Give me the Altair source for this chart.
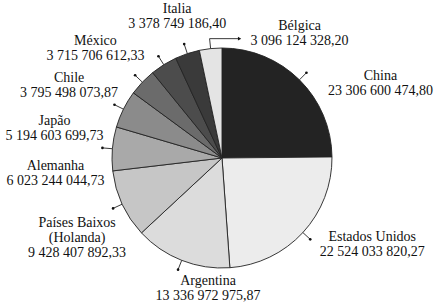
import altair as alt
import pandas as pd

# ---- data ----
countries = ["China", "Estados Unidos", "Argentina", "Países Baixos\n(Holanda)",
             "Alemanha", "Japão", "Chile", "México", "Italia", "Bélgica"]
values = [23306600474.80, 22524033820.27, 13336972975.87, 9428407892.33,
          6023244044.73, 5194603699.73, 3795498073.87, 3715706612.33,
          3378749186.40, 3096124328.20]

# ---- style / layout ----
colors = ["#232323", "#ececec", "#dcdcdc", "#c6c6c6", "#a9a9a9",
          "#8b8b8b", "#6b6b6b", "#4c4c4c", "#3a3a3a", "#e4e4e4"]
# label nudges relative to the end of each (data-derived) leader line
label_dx = [74, 62, 30, -36, -47, -60, -66, -63, -7, 90]
label_dy = [7, 2, 15, 19, 22, 20, 7, -11, -31, -9]
arrow = [0, 0, 0, 0, 0, 0, 0, 0, 0, 1]

CX, CY, R, LEAD = 222, 158, 110, 10
FONT = "Liberation Serif"


def fmt(v):
    return f"{v:,.2f}".replace(",", " ").replace(".", ",")


df = pd.DataFrame({
    "idx": list(range(len(countries))),
    "country": countries,
    "value": values,
    "label": [c + "\n" + fmt(v) for c, v in zip(countries, values)],
    "ldx": label_dx,
    "ldy": label_dy,
    "arrow": arrow,
})

base = alt.Chart(df).transform_joinaggregate(
    total="sum(value)"
).transform_window(
    cum="sum(value)", sort=[alt.SortField("idx", order="ascending")], frame=[None, 0]
).transform_calculate(
    mid="(datum.cum - datum.value / 2) / datum.total * 2 * PI",
).transform_calculate(
    x0=f"{CX} + {R} * sin(datum.mid)",
    y0=f"{CY} - {R} * cos(datum.mid)",
    x1=f"{CX} + {R + LEAD} * sin(datum.mid)",
    y1=f"{CY} - {R + LEAD} * cos(datum.mid)",
).transform_calculate(
    tx="datum.x1 + datum.ldx",
    ty="datum.y1 + datum.ldy",
    ax2="datum.x1 + 30",
)

def px(field):
    return alt.X(field, type="quantitative", scale=None, axis=None)

def py(field):
    return alt.Y(field, type="quantitative", scale=None, axis=None)

arcs = alt.Chart(df).mark_arc(outerRadius=R, stroke="#222222", strokeWidth=0.9).encode(
    theta=alt.Theta("value:Q", stack=True),
    order=alt.Order("idx:Q"),
    color=alt.Color("country:N", scale=alt.Scale(domain=countries, range=colors), legend=None),
    x=alt.value(CX),
    y=alt.value(CY),
)

leaders = base.mark_rule(color="#222222", strokeWidth=0.9).encode(
    x=px("x0"), y=py("y0"), x2="x1:Q", y2="y1:Q"
)

dots = base.transform_filter("datum.arrow == 0").mark_circle(size=7, color="#111111", opacity=1).encode(
    x=px("x1"), y=py("y1")
)

arrow_line = base.transform_filter("datum.arrow == 1").mark_rule(color="#222222", strokeWidth=0.9).encode(
    x=px("x1"), y=py("y1"), x2="ax2:Q"
)

arrow_head = base.transform_filter("datum.arrow == 1").mark_point(
    shape="triangle-right", size=14, filled=True, color="#111111", opacity=1
).encode(x=px("ax2"), y=py("y1"))

labels = base.mark_text(
    font=FONT, fontSize=14, lineHeight=15, lineBreak="\n",
    align="center", baseline="alphabetic", color="#111111"
).encode(x=px("tx"), y=py("ty"), text="label:N")

chart = alt.layer(arcs, leaders, dots, arrow_line, arrow_head, labels).properties(
    width=439, height=307, padding=0, autosize="none", background="white"
).configure_view(stroke=None)

chart.save("out.html", embed_options={"renderer": "svg", "actions": False})
